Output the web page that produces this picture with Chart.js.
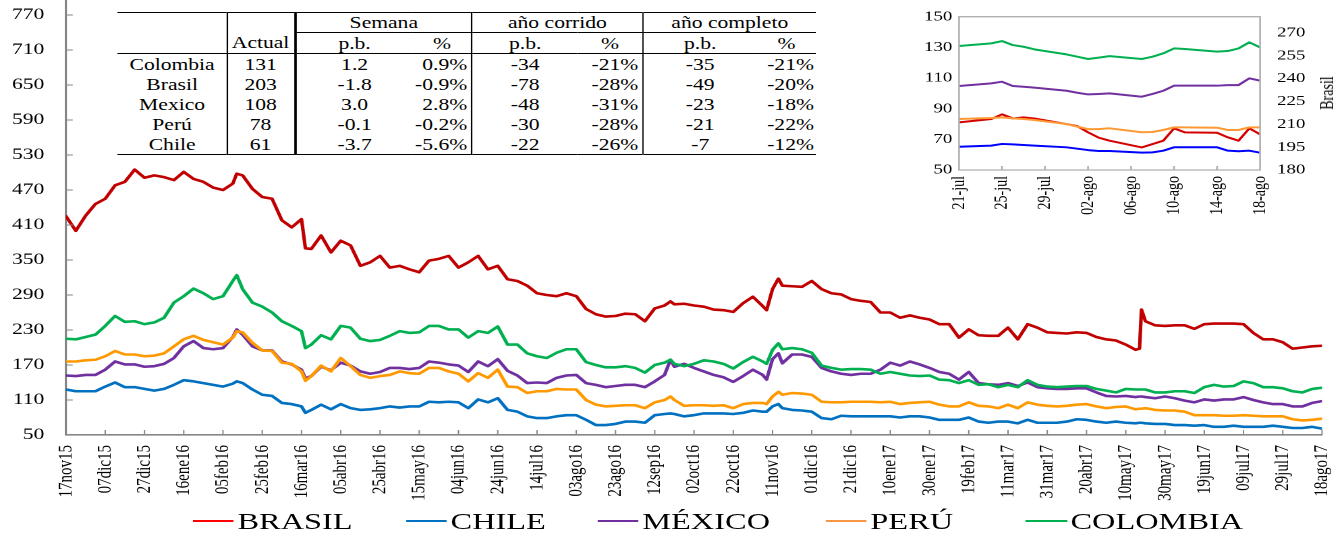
<!DOCTYPE html>
<html>
<head>
<meta charset="utf-8">
<title>CDS 5 años - Latinoamérica</title>
<script src="https://cdn.jsdelivr.net/npm/chart.js@4.4.1/dist/chart.umd.min.js"></script>
<style>
  html, body { margin: 0; padding: 0; background: #fff; width: 1344px; height: 535px; overflow: hidden; }
  /* la imagen original está estirada en horizontal: se dibuja a 996px y se escala */
  #stage { position: absolute; left: 0; top: 0; width: 996px; height: 535px; transform: scaleX(1.3494); transform-origin: 0 0;
           font-family: 'Liberation Serif', 'Times New Roman', serif; color: #000; }
  #mainChart { position: absolute; left: 0; top: 0; width: 996px; height: 535px; }
  #insetChart { position: absolute; left: 680px; top: 0; width: 316px; height: 215px; background: #fff; }
  #brasilTitle { position: absolute; left: 983.5px; top: 93px; font-size: 14px; transform: translate(-50%, -50%) rotate(-90deg); white-space: nowrap; }

  #tabla { position: absolute; left: 87.4px; top: 12px; width: 517.3px; border-collapse: collapse; table-layout: fixed;
           font-size: 16px; line-height: 19px; background: #fff; border-top: 1.6px solid #000; border-bottom: 1.6px solid #000; }
  #tabla td { padding: 0; text-align: center; white-space: nowrap; height: 20px; }
  #tabla tr.h1 td { height: 19px; }
  #tabla tr.h2 td { height: 20px; border-bottom: 1.6px solid #000; }
  #tabla tr.h1 td.g { border-bottom: 1px solid #000; }
  #tabla td.bR { border-right: 1.4px solid #000; }
  #tabla td.bR2 { border-right: 2.2px solid #000; }
  #tabla td.pct { text-align: right; padding-right: 3px; }
  #tabla td.pct.end { padding-right: 1.5px; }

  .li { position: absolute; top: 509px; height: 24px; display: flex; align-items: center; }
  .ln { width: 30.4px; height: 2px; margin-right: 2.6px; }
  .lt { font-size: 24px; line-height: 24px; white-space: nowrap; }
</style>
</head>
<body>
<div id="stage">
  <canvas id="mainChart" width="996" height="535"></canvas>
  <table id="tabla"></table>
  <canvas id="insetChart" width="316" height="215"></canvas>
  <div id="brasilTitle">Brasil</div>
  <div id="leyenda"></div>
</div>
<script>
// Eje principal en días corridos (día 0 = 17nov15), marcas cada 20 días
const tickLabels = ['17nov15','07dic15','27dic15','16ene16','05feb16','25feb16','16mar16','05abr16','25abr16',
  '15may16','04jun16','24jun16','14jul16','03ago16','23ago16','12sep16','02oct16','22oct16','11nov16',
  '01dic16','21dic16','10ene17','30ene17','19feb17','11mar17','31mar17','20abr17','10may17','30may17',
  '19jun17','09jul17','29jul17','18ago17'];
const yTicksMain = [50,110,170,230,290,350,410,470,530,590,650,710,770];

const days = [
  0,5,10,15,20,25,30,35,40,45,50,55,60,65,70,75,80,85,87,90,
  95,100,105,110,115,120,122,125,130,135,140,145,150,155,160,165,170,175,180,185,
  190,195,200,205,210,215,220,225,230,235,240,245,250,255,260,265,270,275,280,285,
  290,295,300,305,308,310,315,320,325,330,335,340,345,350,355,357,360,363,365,370,
  375,380,385,390,395,400,405,410,415,420,425,430,435,440,445,450,455,460,465,470,
  475,480,485,490,495,500,505,510,515,520,525,530,535,540,545,547,548,550,555,560,
  565,570,575,580,585,590,595,600,605,610,615,620,625,630,635,640];

const brasil = [
  425,400,426,446,455,478,484,505,491,495,492,487,501,489,484,474,470,481,498,495,
  472,458,455,418,406,420,370,369,392,363,383,375,340,346,357,337,340,334,329,349,
  352,357,337,346,357,334,340,317,314,306,293,290,288,293,288,266,257,253,254,258,
  257,245,267,272,279,274,275,272,270,265,264,261,276,287,271,264,300,318,306,305,
  304,314,300,293,291,283,280,278,260,260,251,255,251,248,240,240,217,231,221,220,
  220,234,214,240,234,226,225,224,226,225,218,214,212,205,196,198,265,245,238,237,
  238,238,232,240,241,241,241,240,225,214,214,209,198,200,202,203];
const chile = [
  128,125,125,125,133,140,132,132,129,126,129,136,144,142,139,136,133,138,142,139,
  128,119,117,105,103,99,88,93,102,94,103,96,93,94,96,99,97,99,99,107,
  106,107,106,96,111,106,113,93,90,82,79,79,82,84,84,76,67,67,69,73,
  73,71,84,86,87,86,82,84,87,87,87,86,88,92,90,90,99,103,96,93,
  92,90,79,77,83,82,82,82,82,82,80,82,82,80,76,76,76,80,73,71,
  73,73,70,76,71,71,71,73,77,76,73,71,73,71,70,71,71,70,69,69,
  67,67,66,67,64,64,66,64,64,64,66,64,62,62,64,61];
const mexico = [
  152,151,153,153,162,176,171,171,167,168,172,182,202,211,199,197,199,218,231,222,
  202,195,195,176,171,162,147,151,167,161,174,169,159,155,158,165,165,163,165,176,
  174,171,169,158,176,168,180,160,152,139,140,139,148,152,153,139,136,132,134,136,
  136,132,142,153,179,167,172,165,159,153,149,141,151,162,153,145,180,190,173,188,
  188,184,165,159,155,153,155,155,162,174,169,176,171,165,158,155,145,158,139,137,
  136,139,134,140,132,130,129,129,130,130,123,117,116,117,115,116,116,115,113,116,
  113,109,106,111,109,111,111,115,110,106,103,103,99,99,105,108];
const peru = [
  176,176,178,179,185,194,188,188,185,186,190,202,214,220,213,209,205,217,228,226,
  208,195,194,174,172,159,143,151,169,159,182,168,153,148,151,153,159,156,155,165,
  165,159,155,142,156,148,162,133,132,122,125,125,129,128,128,110,102,99,100,101,
  101,96,106,110,116,110,100,101,101,100,101,96,103,105,105,103,116,124,119,122,
  121,119,107,106,106,107,107,107,106,107,103,105,106,107,102,99,99,106,100,99,
  96,102,96,106,102,100,99,100,102,103,99,96,98,99,94,95,95,96,93,92,
  92,90,84,84,84,83,83,84,83,82,82,82,77,75,76,78];
const colombia = [
  215,214,218,222,237,254,244,245,240,243,251,277,288,301,293,283,288,314,324,300,
  277,270,260,245,237,228,199,205,221,214,237,234,215,211,213,220,228,225,226,237,
  237,231,231,217,228,225,236,205,205,190,185,182,191,197,197,175,170,166,166,168,
  165,157,170,174,179,172,168,172,178,176,172,164,175,184,176,172,196,207,197,199,
  197,191,169,165,162,163,163,162,155,158,155,152,151,152,145,144,139,144,136,137,
  132,136,132,144,136,133,132,133,134,134,129,126,123,129,128,128,128,128,123,123,
  125,125,122,132,136,133,134,142,139,132,132,130,125,123,129,131];

// Recuadro: últimas semanas (día 0 = 21-jul)
const insetDays = [0,3,4,5,6,7,10,11,12,13,14,17,18,19,20,21,24,25,26,27,28];
const insetTickLabels = ['21-jul','25-jul','29-jul','02-ago','06-ago','10-ago','14-ago','18-ago'];
const insetLeftTicks = [50,70,90,110,130,150];
const insetRightTicks = [180,195,210,225,240,255,270];
const insetBrasil = [211.2,213.4,216.5,213.8,214.5,213.8,210.1,208.8,204.7,201.2,199.2,194.8,197,199.2,207.3,204.7,204.4,201.4,199.2,207.3,203.4];
const insetChile = [65.2,65.9,67,66.7,66.3,65.9,64.8,63.9,63,62.4,62.4,61.3,61.5,62.6,64.8,64.8,64.8,62.6,62.2,62.6,61.3];
const insetMexico = [104.8,106.5,107.6,104.8,104.3,103.7,101.7,100.4,99.3,99.6,100,97.8,99.6,101.7,105,105,105,105.4,105.4,109.8,108.3];
const insetPeru = [83.3,83.9,84.3,83.7,83.3,82.6,80,78.3,76.7,76.7,77.2,74.6,74.8,76.1,77.8,77.8,77.6,76.1,76.1,77.8,77.8];
const insetColombia = [130.9,132.6,134.1,131.5,130.4,128.7,125.4,123.9,122.4,123.3,124.3,122.4,123.9,126.1,129.3,128.9,127.2,127.6,129.3,133.3,130];

// Tabla
const paises = ['Colombia','Brasil','Mexico','Perú','Chile'];
const actual = [131,203,108,78,61];
const semanaPb = ['1.2','-1.8','3.0','-0.1','-3.7'];
const semanaPct = ['0.9%','-0.9%','2.8%','-0.2%','-5.6%'];
const corridoPb = ['-34','-78','-48','-30','-22'];
const corridoPct = ['-21%','-28%','-31%','-28%','-26%'];
const completoPb = ['-35','-49','-23','-21','-7'];
const completoPct = ['-21%','-20%','-18%','-22%','-12%'];

const legendNames = ['BRASIL','CHILE','MÉXICO','PERÚ','COLOMBIA'];

const serif = "'Liberation Serif', 'Times New Roman', serif";
const colores = { brasil: '#c00000', chile: '#0070c0', mexico: '#7030a0', peru: '#ff9900', colombia: '#00b050' };

function pts(xs, ys) {
  return xs.map((x, i) => ({ x: x, y: ys[i] }));
}

// marcas de eje hacia adentro y marco opcional
const axisMarks = {
  id: 'axisMarks',
  afterDraw(chart, args, o) {
    const ctx = chart.ctx, a = chart.chartArea;
    ctx.save();
    ctx.strokeStyle = o.color;
    ctx.lineWidth = o.width;
    ctx.beginPath();
    if (o.frame) ctx.rect(a.left, a.top, a.right - a.left, a.bottom - a.top);
    const sx = chart.scales.x;
    sx.ticks.forEach(t => {
      const p = sx.getPixelForValue(t.value);
      ctx.moveTo(p, a.bottom);
      ctx.lineTo(p, a.bottom - o.len);
    });
    if (o.yTicks) {
      const sy = chart.scales.y;
      sy.ticks.forEach(t => {
        const p = sy.getPixelForValue(t.value);
        ctx.moveTo(a.left, p);
        ctx.lineTo(a.left + o.len, p);
      });
    }
    ctx.stroke();
    ctx.restore();
  }
};

// Gráfico principal
new Chart(document.getElementById('mainChart'), {
  type: 'line',
  data: {
    datasets: [
      { label: 'BRASIL', data: pts(days, brasil), borderColor: colores.brasil, order: 4 },
      { label: 'CHILE', data: pts(days, chile), borderColor: colores.chile, order: 3 },
      { label: 'MÉXICO', data: pts(days, mexico), borderColor: colores.mexico, order: 2 },
      { label: 'PERÚ', data: pts(days, peru), borderColor: colores.peru, order: 1 },
      { label: 'COLOMBIA', data: pts(days, colombia), borderColor: colores.colombia, order: 0 }
    ]
  },
  options: {
    responsive: false,
    devicePixelRatio: 2,
    animation: false,
    events: [],
    layout: { padding: { top: 0, left: 0, right: 16.3, bottom: 0 } },
    elements: {
      point: { radius: 0 },
      line: { borderWidth: 2.6, tension: 0, borderJoinStyle: 'round', borderCapStyle: 'round' }
    },
    plugins: {
      legend: { display: false },
      tooltip: { enabled: false },
      axisMarks: { color: '#868686', width: 1, len: 5, yTicks: true }
    },
    scales: {
      x: {
        type: 'linear', min: 0, max: 640,
        grid: { display: false, drawTicks: false },
        border: { display: true, color: '#868686', width: 1.6 },
        afterBuildTicks: s => { s.ticks = tickLabels.map((_, i) => ({ value: i * 20 })); },
        ticks: {
          autoSkip: false, minRotation: 90, maxRotation: 90, padding: 10, color: '#000',
          font: { family: serif, size: 15 },
          callback: (v, i) => tickLabels[i]
        },
        afterFit: s => { s.height = 100; s.paddingLeft = 0; s.paddingRight = 0; }
      },
      y: {
        min: 50, max: 795.7,
        grid: { display: false, drawTicks: false },
        border: { display: true, color: '#868686', width: 1.6 },
        afterBuildTicks: s => { s.ticks = yTicksMain.map(v => ({ value: v })); },
        ticks: { padding: 16, color: '#000', font: { family: serif, size: 16 } },
        afterFit: s => { s.width = 48.9; s.paddingTop = 0; s.paddingBottom = 0; }
      }
    }
  },
  plugins: [axisMarks]
});

// Recuadro con las últimas semanas
new Chart(document.getElementById('insetChart'), {
  type: 'line',
  data: {
    datasets: [
      { label: 'Brasil', data: pts(insetDays, insetBrasil), borderColor: '#d40000', yAxisID: 'y2', order: 4 },
      { label: 'Chile', data: pts(insetDays, insetChile), borderColor: '#0000ff', yAxisID: 'y', order: 3 },
      { label: 'México', data: pts(insetDays, insetMexico), borderColor: colores.mexico, yAxisID: 'y', order: 2 },
      { label: 'Perú', data: pts(insetDays, insetPeru), borderColor: '#ff9933', yAxisID: 'y', order: 1 },
      { label: 'Colombia', data: pts(insetDays, insetColombia), borderColor: colores.colombia, yAxisID: 'y', order: 0 }
    ]
  },
  options: {
    responsive: false,
    devicePixelRatio: 2,
    animation: false,
    events: [],
    layout: { padding: { top: 16.7, left: 0, right: 0, bottom: 0 } },
    elements: {
      point: { radius: 0 },
      line: { borderWidth: 2, tension: 0, borderJoinStyle: 'round' }
    },
    plugins: {
      legend: { display: false },
      tooltip: { enabled: false },
      axisMarks: { color: '#b0b0b0', width: 1.3, len: 4, frame: true, yTicks: false }
    },
    scales: {
      x: {
        type: 'linear', min: 0, max: 28,
        grid: { display: false, drawTicks: false },
        border: { display: false },
        afterBuildTicks: s => { s.ticks = insetTickLabels.map((_, i) => ({ value: i * 4 })); },
        ticks: {
          autoSkip: false, minRotation: 90, maxRotation: 90, padding: 6, color: '#000',
          font: { family: serif, size: 14 },
          callback: (v, i) => insetTickLabels[i]
        },
        afterFit: s => { s.height = 45; s.paddingLeft = 0; s.paddingRight = 0; }
      },
      y: {
        position: 'left', min: 50, max: 150,
        grid: { display: false, drawTicks: false },
        border: { display: false },
        afterBuildTicks: s => { s.ticks = insetLeftTicks.map(v => ({ value: v })); },
        ticks: { padding: 5, color: '#000', font: { family: serif, size: 14 } },
        afterFit: s => { s.width = 30.7; s.paddingTop = 0; s.paddingBottom = 0; }
      },
      y2: {
        position: 'right', min: 180, max: 280.5,
        grid: { display: false, drawTicks: false },
        border: { display: false },
        afterBuildTicks: s => { s.ticks = insetRightTicks.map(v => ({ value: v })); },
        ticks: { padding: 12.6, color: '#000', font: { family: serif, size: 14 } },
        afterFit: s => { s.width = 62.2; s.paddingTop = 0; s.paddingBottom = 0; }
      }
    }
  },
  plugins: [axisMarks]
});

// Tabla de variaciones
const colW = [80.8, 50.4, 87.4, 43.8, 78.4, 48.3, 84.4, 43.8];
let html = '<colgroup>' + colW.map(w => '<col style="width:' + w + 'px">').join('') + '</colgroup>';
html += '<tr class="h1"><td class="bR"></td><td class="bR2"></td>' +
        '<td colspan="2" class="g bR">Semana</td><td colspan="2" class="g bR">año corrido</td>' +
        '<td colspan="2" class="g">año completo</td></tr>';
html += '<tr class="h2"><td class="bR"></td><td class="bR2">Actual</td>' +
        '<td>p.b.</td><td class="bR">%</td><td>p.b.</td><td class="bR">%</td><td>p.b.</td><td>%</td></tr>';
paises.forEach((p, i) => {
  html += '<tr><td class="bR">' + p + '</td><td class="bR2">' + actual[i] + '</td>' +
          '<td>' + semanaPb[i] + '</td><td class="bR pct">' + semanaPct[i] + '</td>' +
          '<td>' + corridoPb[i] + '</td><td class="bR pct">' + corridoPct[i] + '</td>' +
          '<td>' + completoPb[i] + '</td><td class="pct end">' + completoPct[i] + '</td></tr>';
});
document.getElementById('tabla').innerHTML = html;

// Leyenda
const legendColors = ['#ff0000', colores.chile, colores.mexico, '#f79646', colores.colombia];
const legendLeft = [143, 300.9, 443, 612, 760.3];
document.getElementById('leyenda').innerHTML = legendNames.map((n, i) =>
  '<div class="li" style="left:' + legendLeft[i] + 'px"><span class="ln" style="background:' + legendColors[i] +
  '"></span><span class="lt">' + n + '</span></div>').join('');
</script>
</body>
</html>
